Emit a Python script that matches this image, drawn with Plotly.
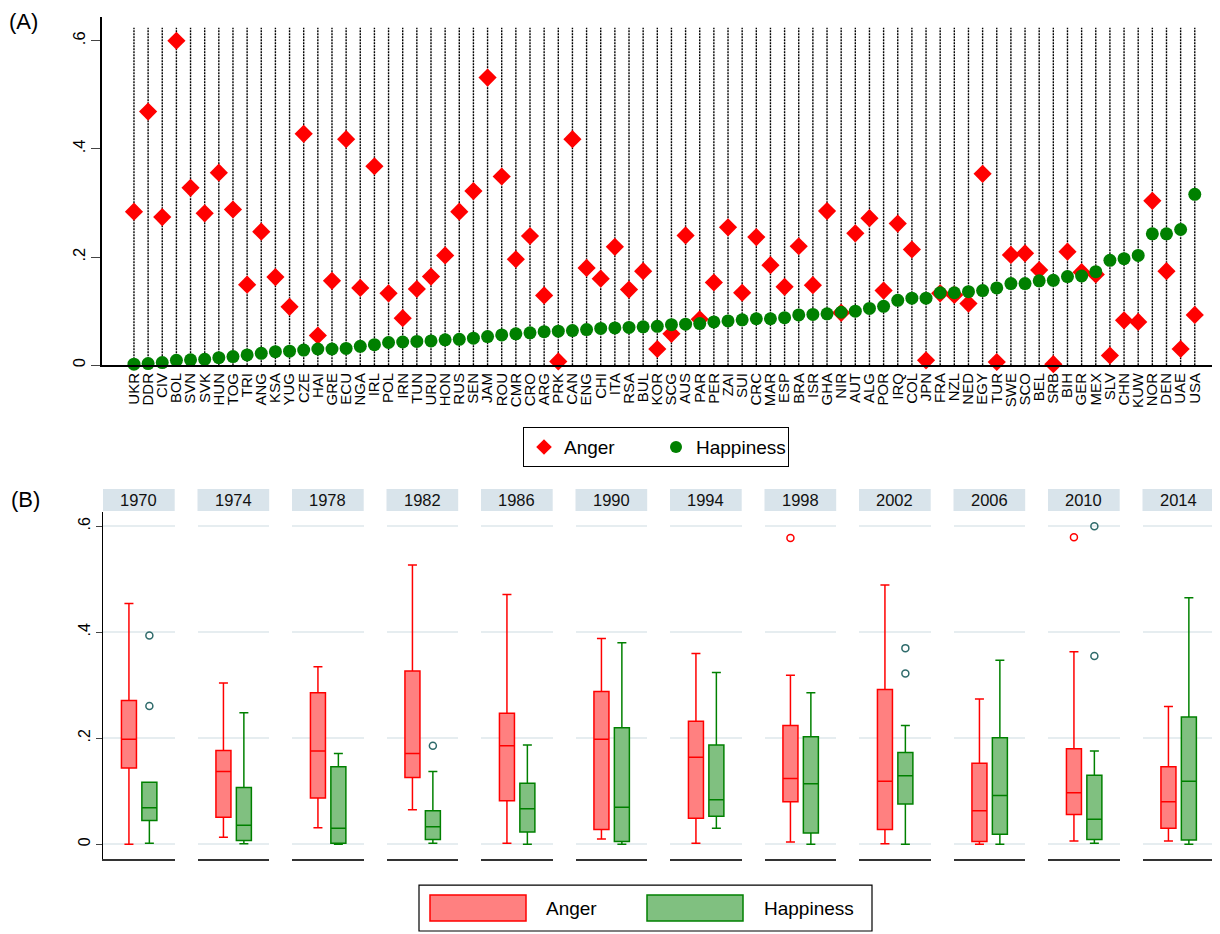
import plotly.graph_objects as go

# ---------------- Panel A data ----------------
countries = ["UKR", "DDR", "CIV", "BOL", "SVN", "SVK", "HUN", "TOG", "TRI", "ANG",
             "KSA", "YUG", "CZE", "HAI", "GRE", "ECU", "NGA", "IRL", "POL", "IRN",
             "TUN", "URU", "HON", "RUS", "SEN", "JAM", "ROU", "CMR", "CRO", "ARG",
             "PRK", "CAN", "ENG", "CHI", "ITA", "RSA", "BUL", "KOR", "SCG", "AUS",
             "PAR", "PER", "ZAI", "SUI", "CRC", "MAR", "ESP", "BRA", "ISR", "GHA",
             "NIR", "AUT", "ALG", "POR", "IRQ", "COL", "JPN", "FRA", "NZL", "NED",
             "EGY", "TUR", "SWE", "SCO", "BEL", "SRB", "BIH", "GER", "MEX", "SLV",
             "CHN", "KUW", "NOR", "DEN", "UAE", "USA"]

anger = [0.284, 0.469, 0.274, 0.600, 0.328, 0.281, 0.356, 0.288, 0.149, 0.247,
         0.163, 0.108, 0.428, 0.055, 0.156, 0.418, 0.143, 0.368, 0.133, 0.087,
         0.141, 0.164, 0.203, 0.284, 0.322, 0.532, 0.349, 0.196, 0.239, 0.129,
         0.007, 0.418, 0.180, 0.160, 0.219, 0.140, 0.174, 0.030, 0.058, 0.240,
         0.085, 0.153, 0.255, 0.134, 0.237, 0.185, 0.145, 0.220, 0.148, 0.285,
         0.097, 0.244, 0.272, 0.138, 0.262, 0.214, 0.009, 0.133, 0.130, 0.114,
         0.354, 0.006, 0.204, 0.207, 0.176, 0.002, 0.210, 0.172, 0.168, 0.018,
         0.083, 0.080, 0.304, 0.174, 0.030, 0.093]

happiness = [0.002, 0.003, 0.005, 0.009, 0.010, 0.011, 0.014, 0.016, 0.019, 0.022,
             0.025, 0.026, 0.028, 0.030, 0.030, 0.031, 0.035, 0.038, 0.042, 0.043,
             0.044, 0.045, 0.047, 0.048, 0.050, 0.053, 0.056, 0.058, 0.060, 0.062,
             0.063, 0.064, 0.066, 0.068, 0.069, 0.070, 0.071, 0.072, 0.075, 0.076,
             0.077, 0.080, 0.082, 0.084, 0.086, 0.086, 0.088, 0.093, 0.094, 0.095,
             0.098, 0.100, 0.105, 0.109, 0.120, 0.124, 0.124, 0.134, 0.134, 0.136,
             0.138, 0.143, 0.151, 0.151, 0.156, 0.157, 0.164, 0.165, 0.173, 0.194,
             0.197, 0.203, 0.243, 0.243, 0.251, 0.316]

# ---------------- Panel B data ----------------
years = ["1970", "1974", "1978", "1982", "1986", "1990",
         "1994", "1998", "2002", "2006", "2010", "2014"]

anger_lo  = [0.000, 0.013, 0.031, 0.065, 0.002, 0.010, 0.002, 0.004, 0.001, 0.000, 0.006, 0.006]
anger_q1  = [0.144, 0.051, 0.087, 0.126, 0.082, 0.028, 0.049, 0.080, 0.028, 0.005, 0.056, 0.030]
anger_med = [0.198, 0.137, 0.176, 0.171, 0.186, 0.198, 0.164, 0.124, 0.119, 0.063, 0.097, 0.080]
anger_q3  = [0.271, 0.177, 0.286, 0.327, 0.247, 0.288, 0.232, 0.224, 0.292, 0.153, 0.180, 0.146]
anger_hi  = [0.454, 0.304, 0.335, 0.527, 0.471, 0.388, 0.360, 0.319, 0.489, 0.274, 0.363, 0.260]
anger_out = [[], [], [], [], [], [], [], [0.578], [], [], [0.579], []]

happy_lo  = [0.002, 0.001, 0.000, 0.002, 0.000, 0.000, 0.030, 0.000, 0.000, 0.000, 0.002, 0.000]
happy_q1  = [0.045, 0.007, 0.002, 0.009, 0.023, 0.005, 0.053, 0.021, 0.076, 0.019, 0.009, 0.008]
happy_med = [0.069, 0.036, 0.030, 0.033, 0.067, 0.070, 0.084, 0.114, 0.129, 0.092, 0.047, 0.119]
happy_q3  = [0.117, 0.107, 0.146, 0.063, 0.115, 0.220, 0.187, 0.203, 0.173, 0.201, 0.130, 0.240]
happy_hi  = [0.117, 0.248, 0.171, 0.137, 0.187, 0.380, 0.324, 0.286, 0.224, 0.347, 0.176, 0.465]
happy_out = [[0.394, 0.261], [], [], [0.186], [], [], [], [], [0.370, 0.322], [], [0.600, 0.355], []]

groups = ["Anger", "Happiness"]
tick_vals = [0, 0.2, 0.4, 0.6]
tick_text = ["0", ".2", ".4", ".6"]

# ---------------- styling helpers ----------------
# the page body has an 8px margin; positions are given in window pixels
OFF = 8
W, H = 1220, 934
FONT = "Arial, Liberation Sans, sans-serif"
RED, GREEN = "#ff0000", "#008000"
RED_FILL, GREEN_FILL = "#ff8080", "#80c080"
OUT_GREEN = "#2f6b6b"


def px(x):
    return (x - OFF) / W


def py(y):
    return 1 - (y - OFF) / H


fig = go.Figure()

# dotted category guide lines (panel A)
gx, gy = [], []
for c in countries:
    gx += [c, c, None]
    gy += [0, 0.624, None]
fig.add_trace(go.Scatter(x=gx, y=gy, mode="lines", xaxis="x", yaxis="y",
                         line=dict(color="black", width=1.4, dash="2px,1px"),
                         showlegend=False, hoverinfo="skip"))

fig.add_trace(go.Scatter(x=countries, y=anger, mode="markers", name="Anger",
                         xaxis="x", yaxis="y", cliponaxis=False,
                         marker=dict(symbol="diamond", size=14, color=RED)))
fig.add_trace(go.Scatter(x=countries, y=happiness, mode="markers", name="Happiness",
                         xaxis="x", yaxis="y", cliponaxis=False,
                         marker=dict(symbol="circle", size=13, color=GREEN)))

layout = dict(
    width=W, height=H,
    margin=dict(l=0, r=0, t=0, b=0),
    paper_bgcolor="white", plot_bgcolor="white",
    font=dict(family=FONT, color="black"),
    showlegend=True,
    legend=dict(orientation="h", x=px(523), y=py(428), xanchor="left", yanchor="top",
                bordercolor="black", borderwidth=1, font=dict(size=19),
                itemsizing="constant", entrywidth=87, entrywidthmode="pixels",
                bgcolor="white", tracegroupgap=0),
    xaxis=dict(domain=[px(102), px(1215)], type="category",
               categoryorder="array", categoryarray=countries,
               tickmode="array", tickvals=countries, ticktext=countries,
               range=[-2.26, 76.43], tickangle=-90, ticks="",
               tickfont=dict(size=15), showline=True, linecolor="black",
               linewidth=1.5, showgrid=False, zeroline=False, anchor="y"),
    yaxis=dict(domain=[py(366), py(17)], range=[0, 0.644],
               tickvals=tick_vals, ticktext=tick_text, tickangle=-90,
               tickfont=dict(size=16.5), ticks="outside", ticklen=9,
               showline=True, linecolor="black", linewidth=1.5,
               showgrid=False, zeroline=False, anchor="x"),
)

shapes = []
annotations = []

FACET_W = 71.7
PITCH = 94.5
for i, yr in enumerate(years):
    k = i + 2
    left = 103 + i * PITCH
    right = left + FACET_W
    layout[f"xaxis{k}"] = dict(domain=[px(left), px(right)], type="category",
                               categoryorder="array", categoryarray=groups,
                               range=[-1.27, 2.24], showticklabels=False, ticks="",
                               showline=True, linecolor="#333333", linewidth=1.5,
                               showgrid=False, zeroline=False, anchor=f"y{k}")
    layout[f"yaxis{k}"] = dict(domain=[py(861), py(513)], range=[-0.0282, 0.627],
                               tickvals=tick_vals, ticktext=tick_text, tickangle=-90,
                               tickfont=dict(size=16),
                               showgrid=True, gridcolor="#e6edf0", gridwidth=1.5,
                               zeroline=False, anchor=f"x{k}",
                               showticklabels=(i == 0),
                               ticks="outside" if i == 0 else "", ticklen=6,
                               showline=(i == 0), linecolor="black", linewidth=1.2)

    fig.add_trace(go.Box(x=["Anger"], q1=[anger_q1[i]], median=[anger_med[i]],
                         q3=[anger_q3[i]], lowerfence=[anger_lo[i]],
                         upperfence=[anger_hi[i]], orientation="v",
                         xaxis=f"x{k}", yaxis=f"y{k}", width=0.735, whiskerwidth=0.6,
                         fillcolor=RED_FILL, line=dict(color=RED, width=1.5),
                         boxpoints=False, showlegend=False, name="Anger"))
    fig.add_trace(go.Box(x=["Happiness"], q1=[happy_q1[i]], median=[happy_med[i]],
                         q3=[happy_q3[i]], lowerfence=[happy_lo[i]],
                         upperfence=[happy_hi[i]], orientation="v",
                         xaxis=f"x{k}", yaxis=f"y{k}", width=0.735, whiskerwidth=0.6,
                         fillcolor=GREEN_FILL, line=dict(color=GREEN, width=1.5),
                         boxpoints=False, showlegend=False, name="Happiness"))
    if anger_out[i]:
        fig.add_trace(go.Scatter(x=["Anger"] * len(anger_out[i]), y=anger_out[i],
                                 mode="markers", xaxis=f"x{k}", yaxis=f"y{k}",
                                 showlegend=False, cliponaxis=False,
                                 marker=dict(symbol="circle-open", size=7, color=RED,
                                             line=dict(width=1.5, color=RED))))
    if happy_out[i]:
        fig.add_trace(go.Scatter(x=["Happiness"] * len(happy_out[i]), y=happy_out[i],
                                 mode="markers", xaxis=f"x{k}", yaxis=f"y{k}",
                                 showlegend=False, cliponaxis=False,
                                 marker=dict(symbol="circle-open", size=7, color=OUT_GREEN,
                                             line=dict(width=1.5, color=OUT_GREEN))))

    # facet header strip
    shapes.append(dict(type="rect", xref="paper", yref="paper",
                       x0=px(left), x1=px(right), y0=py(512), y1=py(490),
                       fillcolor="#d9e4eb", line=dict(width=0), layer="below"))
    annotations.append(dict(text=yr, xref="paper", yref="paper",
                            x=px((left + right) / 2), y=py(501),
                            xanchor="center", yanchor="middle", showarrow=False,
                            font=dict(size=16.5, color="#111111")))

# panel labels
annotations.append(dict(text="(A)", xref="paper", yref="paper", x=px(7), y=py(22),
                        xanchor="left", yanchor="middle", showarrow=False,
                        font=dict(size=22)))
annotations.append(dict(text="(B)", xref="paper", yref="paper", x=px(9), y=py(501),
                        xanchor="left", yanchor="middle", showarrow=False,
                        font=dict(size=22)))

# panel B legend (drawn)
shapes.append(dict(type="rect", xref="paper", yref="paper",
                   x0=px(419), x1=px(872), y0=py(933), y1=py(887),
                   line=dict(color="black", width=1.2), fillcolor="white"))
shapes.append(dict(type="rect", xref="paper", yref="paper",
                   x0=px(430), x1=px(526), y0=py(923), y1=py(897),
                   line=dict(color=RED, width=1.5), fillcolor=RED_FILL))
shapes.append(dict(type="rect", xref="paper", yref="paper",
                   x0=px(647), x1=px(743), y0=py(923), y1=py(897),
                   line=dict(color=GREEN, width=1.5), fillcolor=GREEN_FILL))
annotations.append(dict(text="Anger", xref="paper", yref="paper", x=px(544), y=py(910),
                        xanchor="left", yanchor="middle", showarrow=False,
                        font=dict(size=19)))
annotations.append(dict(text="Happiness", xref="paper", yref="paper", x=px(762), y=py(910),
                        xanchor="left", yanchor="middle", showarrow=False,
                        font=dict(size=19)))

layout["shapes"] = shapes
layout["annotations"] = annotations
fig.update_layout(**layout)

fig.write_html("out.html")
